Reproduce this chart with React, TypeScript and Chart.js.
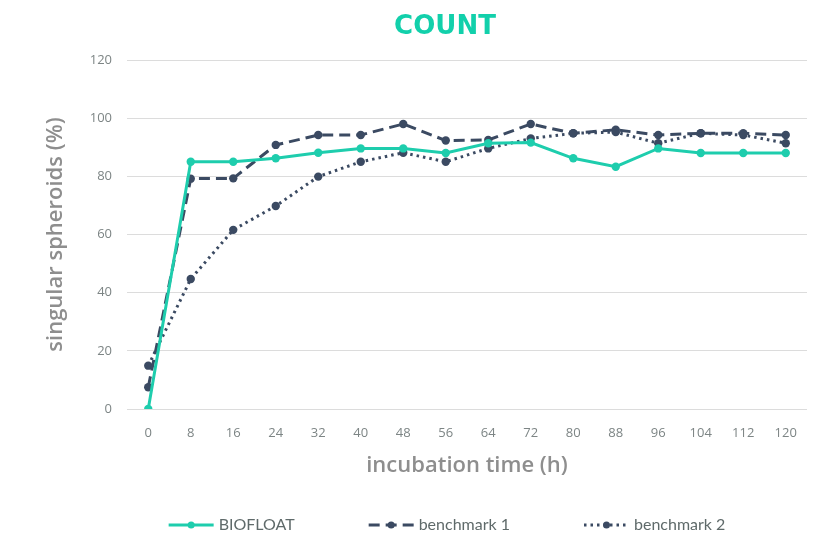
import React, { useEffect, useRef } from 'react';
import { Chart, registerables } from 'chart.js';

Chart.register(...registerables);

// ---- data ----
const hours = ['0', '8', '16', '24', '32', '40', '48', '56', '64', '72', '80', '88', '96', '104', '112', '120'];
const biofloat = [0, 85, 85, 86.2, 88.1, 89.6, 89.6, 88, 91.4, 91.6, 86.2, 83.3, 89.6, 88, 88, 88];
const benchmark1 = [7.5, 79.2, 79.3, 90.8, 94.2, 94.2, 98, 92.3, 92.5, 98, 94.8, 96, 94.2, 94.8, 94.8, 94.2];
const benchmark2 = [14.9, 44.7, 61.6, 69.8, 79.9, 85, 88.1, 85, 89.6, 93, 94.8, 95.2, 91.4, 94.8, 94.2, 91.4];
const seriesNames = ['BIOFLOAT', 'benchmark 1', 'benchmark 2'];
const chartTitle = 'COUNT';
const yTitle = 'singular spheroids (%)';
const xTitle = 'incubation time (h)';
const yMin = 0;
const yMax = 120;
const yStep = 20;

// ---- styles ----
const TEAL = '#1ecdad';
const NAVY = '#3b4a62';
const TITLE_COLOR = '#12d0ab';
const TICK_COLOR = '#7d8585';
const AXIS_TITLE_COLOR = '#8e8e8e';
const LEGEND_TEXT = '#5f6a6a';
const GRID = '#dcdcdc';
const dashes: number[][] = [[], [11, 6], [2.5, 4]];
const colors = [TEAL, NAVY, NAVY];

const TITLE_X = 445;
const TITLE_Y = 27;
const LEGEND_CENTER_X = 447;
const LEGEND_Y = 525;
const LEGEND_LINE_W = 45;
const LEGEND_TEXT_GAP = 5;
const LEGEND_ITEM_GAP = 74;
const LEGEND_FONT = '16px Lato, "Open Sans", sans-serif';

const overlayPlugin = {
  id: 'overlay',
  afterDraw(chart: any) {
    const ctx = chart.ctx as CanvasRenderingContext2D;
    ctx.save();
    // title
    ctx.font = 'bold 26px "DejaVu Sans", sans-serif';
    ctx.fillStyle = TITLE_COLOR;
    ctx.textAlign = 'center';
    ctx.textBaseline = 'middle';
    ctx.fillText(chartTitle, TITLE_X, TITLE_Y);

    // legend
    ctx.font = LEGEND_FONT;
    const widths = seriesNames.map((n) => LEGEND_LINE_W + LEGEND_TEXT_GAP + ctx.measureText(n).width);
    const total = widths.reduce((a, b) => a + b, 0) + LEGEND_ITEM_GAP * (seriesNames.length - 1);
    let x = LEGEND_CENTER_X - total / 2;
    seriesNames.forEach((name, i) => {
      ctx.save();
      ctx.strokeStyle = colors[i];
      ctx.lineWidth = 3;
      ctx.setLineDash(dashes[i]);
      ctx.beginPath();
      ctx.moveTo(x, LEGEND_Y);
      ctx.lineTo(x + LEGEND_LINE_W, LEGEND_Y);
      ctx.stroke();
      ctx.setLineDash([]);
      ctx.fillStyle = colors[i];
      ctx.beginPath();
      ctx.arc(x + LEGEND_LINE_W / 2, LEGEND_Y, 3.5, 0, Math.PI * 2);
      ctx.fill();
      ctx.restore();
      ctx.fillStyle = LEGEND_TEXT;
      ctx.textAlign = 'left';
      ctx.textBaseline = 'middle';
      ctx.fillText(name, x + LEGEND_LINE_W + LEGEND_TEXT_GAP, LEGEND_Y);
      x += widths[i] + LEGEND_ITEM_GAP;
    });
    ctx.restore();
  },
};

export default function App() {
  const ref = useRef<HTMLCanvasElement | null>(null);

  useEffect(() => {
    if (!ref.current) return;
    const series = [biofloat, benchmark1, benchmark2];
    const chart = new Chart(ref.current, {
      type: 'line',
      data: {
        labels: hours,
        datasets: series.map((d, i) => ({
          label: seriesNames[i],
          data: d,
          borderColor: colors[i],
          backgroundColor: colors[i],
          pointBackgroundColor: colors[i],
          pointBorderColor: colors[i],
          borderWidth: 3,
          borderDash: dashes[i],
          pointRadius: 4.2,
          pointBorderWidth: 0,
          tension: 0,
          fill: false,
        })),
      },
      options: {
        responsive: false,
        animation: false,
        devicePixelRatio: 1,
        layout: { padding: { top: 60, bottom: 51, left: 0, right: 20 } },
        plugins: {
          legend: { display: false },
          title: { display: false },
          tooltip: { enabled: false },
        },
        scales: {
          x: {
            type: 'category',
            offset: true,
            grid: { display: false },
            border: { display: false },
            ticks: {
              color: TICK_COLOR,
              font: { family: '"Open Sans", sans-serif', size: 13 },
              padding: 8,
              maxRotation: 0,
              autoSkip: false,
            },
            title: {
              display: true,
              text: xTitle,
              color: AXIS_TITLE_COLOR,
              font: { family: '"Open Sans", sans-serif', size: 22, weight: 600 },
              padding: { top: 0, bottom: 7 },
            },
            afterFit(scale: any) {
              scale.height = 77;
            },
          },
          y: {
            min: yMin,
            max: yMax,
            grid: { color: GRID, lineWidth: 1, drawTicks: false },
            border: { display: false },
            ticks: {
              stepSize: yStep,
              color: TICK_COLOR,
              font: { family: '"Open Sans", sans-serif', size: 13 },
              padding: 15,
            },
            title: {
              display: true,
              text: yTitle,
              color: AXIS_TITLE_COLOR,
              font: { family: '"Open Sans", sans-serif', size: 22, weight: 600 },
              padding: { top: 43, bottom: 0 },
            },
            afterFit(scale: any) {
              scale.width = 127;
            },
          },
        },
      },
      plugins: [overlayPlugin],
    });
    return () => chart.destroy();
  }, []);

  return (
    <div style={{ position: 'fixed', left: 0, top: 0, width: 827, height: 537, background: '#fff' }}>
      <canvas ref={ref} width={827} height={537} style={{ display: 'block' }} />
    </div>
  );
}
